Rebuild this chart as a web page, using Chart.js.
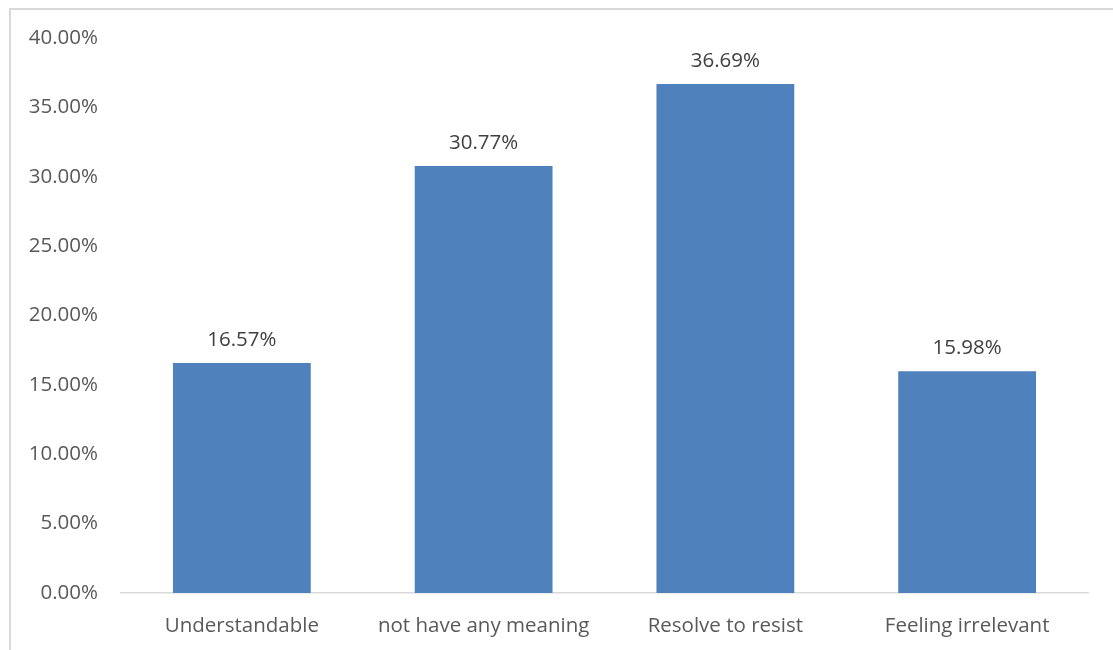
<!DOCTYPE html>
<html>
<head>
<meta charset="utf-8">
<script src="https://cdn.jsdelivr.net/npm/chart.js@4.4.1/dist/chart.umd.min.js"></script>
<style>
  html, body { margin: 0; padding: 0; background: #fff; }
  #wrap { width: 1113px; height: 650px; position: relative; }
</style>
</head>
<body>
<div id="wrap"><canvas id="chart"></canvas></div>
<script>
// attitude categories and their share of answers (%)
const categories = ['Understandable', 'not have any meaning', 'Resolve to resist', 'Feeling irrelevant'];
const shares = [16.57, 30.77, 36.69, 15.98];
const yTicks = [0, 5, 10, 15, 20, 25, 30, 35, 40];

const FONT = '"Open Sans", Lato, sans-serif';
const FONT_SIZE = 20.5;

// thin frame along the top and left edges
const framePlugin = {
  id: 'frame',
  beforeDraw(chart) {
    const ctx = chart.ctx;
    ctx.save();
    ctx.strokeStyle = '#d9d9d9';
    ctx.lineWidth = 2;
    ctx.beginPath();
    ctx.moveTo(10, chart.height);
    ctx.lineTo(10, 9);
    ctx.lineTo(chart.width, 9);
    ctx.stroke();
    ctx.restore();
  }
};

// percentage text above each bar
const valueLabels = {
  id: 'valueLabels',
  afterDatasetsDraw(chart) {
    const ctx = chart.ctx;
    const meta = chart.getDatasetMeta(0);
    ctx.save();
    ctx.fillStyle = '#404040';
    ctx.font = FONT_SIZE + 'px ' + FONT;
    ctx.textAlign = 'center';
    ctx.textBaseline = 'middle';
    meta.data.forEach((bar, i) => {
      ctx.fillText(shares[i].toFixed(2) + '%', bar.x, bar.y - 23);
    });
    ctx.restore();
  }
};

new Chart(document.getElementById('chart'), {
  type: 'bar',
  data: {
    labels: categories,
    datasets: [{
      data: shares,
      backgroundColor: '#4f81bd',
      categoryPercentage: 1,
      barPercentage: 0.57
    }]
  },
  options: {
    responsive: true,
    maintainAspectRatio: false,
    animation: false,
    layout: { padding: { left: 0, right: 25, top: 38, bottom: 0 } },
    plugins: { legend: { display: false }, tooltip: { enabled: false } },
    scales: {
      x: {
        grid: { display: false, drawTicks: false },
        border: { display: true, color: '#d9d9d9', width: 1.5 },
        ticks: { color: '#595959', font: { family: FONT, size: FONT_SIZE }, padding: 21, maxRotation: 0 },
        afterFit: s => { s.height = 57; }
      },
      y: {
        min: 0,
        max: 40,
        afterBuildTicks: s => { s.ticks = yTicks.map(v => ({ value: v })); },
        grid: { display: false, drawTicks: false },
        border: { display: false },
        ticks: {
          color: '#595959',
          font: { family: FONT, size: FONT_SIZE },
          padding: 23,
          callback: v => v.toFixed(2) + '%'
        },
        afterFit: s => { s.width = 121; }
      }
    }
  },
  plugins: [framePlugin, valueLabels]
});
</script>
</body>
</html>
